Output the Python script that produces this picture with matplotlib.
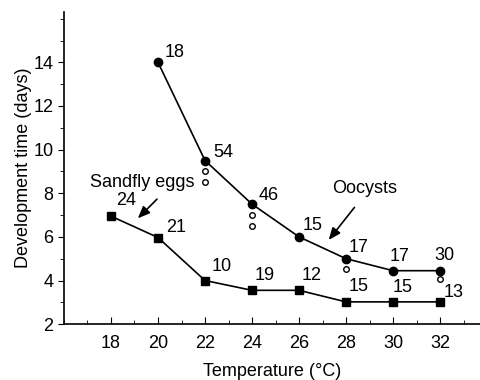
import matplotlib
matplotlib.use("Agg")
import matplotlib.pyplot as plt
from matplotlib.ticker import MultipleLocator

plt.rcParams['font.family'] = ['Liberation Sans', 'DejaVu Sans']

# Data
ooc_temp = [20, 22, 24, 26, 28, 30, 32]
ooc_days = [14.0, 9.5, 7.5, 6.0, 5.0, 4.45, 4.45]
ooc_n = ['18', '54', '46', '15', '17', '17', '30']

egg_temp = [18, 20, 22, 24, 26, 28, 30, 32]
egg_days = [6.95, 5.97, 4.0, 3.55, 3.55, 3.02, 3.02, 3.02]
egg_n = ['24', '21', '10', '19', '12', '15', '15', '13']

open_temp = [22, 22, 24, 24, 28, 32]
open_days = [9.0, 8.5, 7.0, 6.5, 4.55, 4.05]

# label offsets in points
ooc_off = [(12, 7), (13, 6), (12, 6), (10, 8), (9, 8), (5, 10), (3, 11)]
egg_off = [(11, 11), (13, 7), (12, 10), (9, 11), (9, 11), (9, 11), (7, 10), (10, 7)]

FS = 13

fig = plt.figure(figsize=(4.81, 3.80), dpi=100)
ax = fig.add_axes([0.133, 0.147, 0.865, 0.821])

ax.plot(ooc_temp, ooc_days, '-o', color='black', lw=1.2, ms=6)
ax.plot(egg_temp, egg_days, '-s', color='black', lw=1.2, ms=6)
ax.plot(open_temp, open_days, 'o', mfc='white', mec='black', mew=1.0, ms=4, ls='none')

for x, y, t, o in zip(ooc_temp, ooc_days, ooc_n, ooc_off):
    ax.annotate(t, (x, y), xytext=o, textcoords='offset points',
                ha='center', va='center', fontsize=FS)
for x, y, t, o in zip(egg_temp, egg_days, egg_n, egg_off):
    ax.annotate(t, (x, y), xytext=o, textcoords='offset points',
                ha='center', va='center', fontsize=FS)

ax.annotate('', xy=(19.06, 6.76), xytext=(20.04, 7.82),
            arrowprops=dict(arrowstyle='-|>,head_length=0.6,head_width=0.25',
                            color='black', lw=1.2, mutation_scale=12))
ax.text(19.32, 8.5, 'Sandfly eggs', ha='center', va='center', fontsize=FS)
ax.annotate('', xy=(27.19, 5.76), xytext=(28.43, 7.45),
            arrowprops=dict(arrowstyle='-|>,head_length=0.6,head_width=0.25',
                            color='black', lw=1.2, mutation_scale=12))
ax.text(28.77, 8.23, 'Oocysts', ha='center', va='center', fontsize=FS)

ax.set_xlim(16, 33.7)
ax.set_ylim(2, 16.3)
ax.set_xticks(egg_temp)
ax.set_yticks([2, 4, 6, 8, 10, 12, 14])
ax.xaxis.set_minor_locator(MultipleLocator(1))
ax.yaxis.set_minor_locator(MultipleLocator(1))
ax.tick_params(axis='x', which='both', direction='in', labelsize=FS, pad=8)
ax.tick_params(axis='x', which='major', length=5)
ax.tick_params(axis='x', which='minor', length=3)
ax.tick_params(axis='y', which='both', direction='out', labelsize=FS)
ax.tick_params(axis='y', which='major', length=4)
ax.tick_params(axis='y', which='minor', length=3)
for s in ['top', 'right']:
    ax.spines[s].set_visible(False)
ax.spines['left'].set_linewidth(1.2)
ax.spines['bottom'].set_linewidth(1.2)

ax.set_xlabel('Temperature (°C)', fontsize=FS, labelpad=8)
ax.set_ylabel('Development time (days)', fontsize=FS, labelpad=1)

fig.savefig('out.png', dpi=100)
